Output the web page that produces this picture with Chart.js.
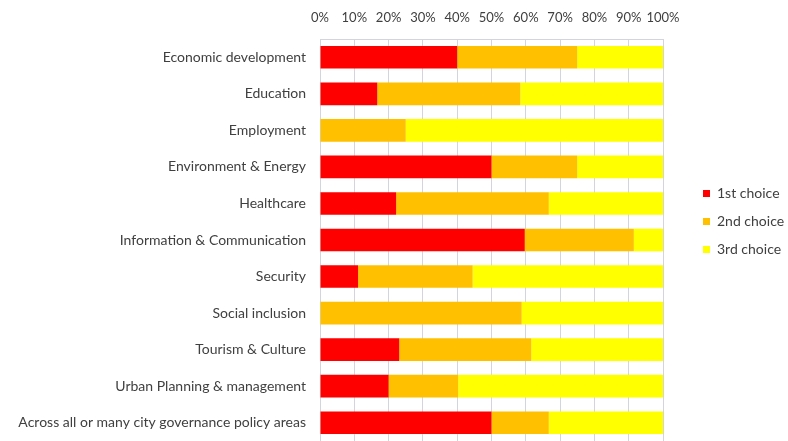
<!DOCTYPE html>
<html>
<head>
<meta charset="utf-8">
<script src="https://cdn.jsdelivr.net/npm/chart.js@4.4.1/dist/chart.umd.min.js"></script>
<style>
html,body{margin:0;padding:0;background:#fff;}
#wrap{width:788px;height:441px;}
</style>
</head>
<body>
<div id="wrap"><canvas id="c" width="788" height="441"></canvas></div>
<script>
const categories = [
  "Economic development",
  "Education",
  "Employment",
  "Environment & Energy",
  "Healthcare",
  "Information & Communication",
  "Security",
  "Social inclusion",
  "Tourism & Culture",
  "Urban Planning & management",
  "Across all or many city governance policy areas"
];
const seriesNames = ["1st choice", "2nd choice", "3rd choice"];
const firstChoice  = [40.0, 16.7, 0.0, 50.0, 22.2, 59.7, 11.1, 0.0, 23.1, 20.0, 50.0];
const secondChoice = [35.0, 41.7, 25.0, 25.0, 44.5, 31.8, 33.4, 58.8, 38.5, 20.3, 16.7];
const thirdChoice  = [25.0, 41.6, 75.0, 25.0, 33.3, 8.5, 55.5, 41.2, 38.4, 59.7, 33.3];
const xTickValues = [0,10,20,30,40,50,60,70,80,90,100];
const colors = ["#FF0000", "#FFC000", "#FFFF00"];

const fontFamily = "Lato, 'Open Sans', sans-serif";
const textColor = "#404040";

new Chart(document.getElementById('c'), {
  type: 'bar',
  data: {
    labels: categories,
    datasets: [firstChoice, secondChoice, thirdChoice].map((d, i) => ({
      label: seriesNames[i],
      data: d,
      backgroundColor: colors[i],
      borderWidth: 0,
      barPercentage: 0.62,
      categoryPercentage: 1.0
    }))
  },
  options: {
    indexAxis: 'y',
    responsive: false,
    animation: false,
    devicePixelRatio: 1,
    layout: { padding: { top: 2, right: 0, bottom: 0, left: 0 } },
    scales: {
      x: {
        position: 'top',
        stacked: true,
        min: 0,
        max: 100,
        afterBuildTicks: (axis) => { axis.ticks = xTickValues.map(v => ({ value: v })); },
        ticks: {
          callback: (v) => v + '%',
          color: textColor,
          font: { family: fontFamily, size: 13 },
          padding: 13,
          maxRotation: 0,
          autoSkip: false
        },
        grid: { color: '#D4D4DC', drawTicks: false, lineWidth: 1 },
        border: { color: '#D4D4DC' },
        afterFit: (axis) => { axis.height = 37; }
      },
      y: {
        stacked: true,
        ticks: {
          color: textColor,
          font: { family: fontFamily, size: 14 },
          padding: 14,
          autoSkip: false
        },
        grid: { display: false, drawTicks: false },
        border: { color: '#D4D4DC' },
        afterFit: (axis) => { axis.width = 320; axis.paddingTop = 0; axis.paddingBottom = 0; }
      },
      spacer: {
        type: 'linear',
        position: 'right',
        display: true,
        ticks: { display: false },
        grid: { display: false, drawTicks: false },
        border: { display: false },
        afterFit: (axis) => { axis.width = 26; axis.paddingTop = 0; axis.paddingBottom = 0; }
      }
    },
    plugins: {
      legend: {
        position: 'right',
        align: 'center',
        maxWidth: 99,
        labels: {
          boxWidth: 7,
          boxHeight: 7,
          padding: 14,
          color: textColor,
          font: { family: fontFamily, size: 14 }
        }
      },
      tooltip: { enabled: false }
    }
  }
});
</script>
</body>
</html>
